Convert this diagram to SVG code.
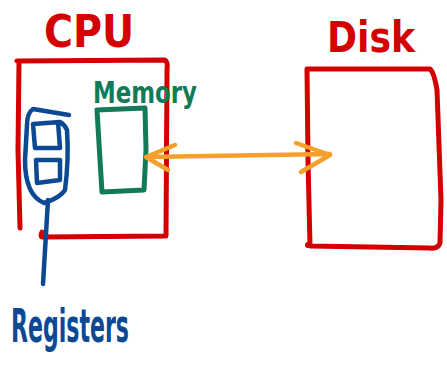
<svg xmlns="http://www.w3.org/2000/svg" width="447" height="375" viewBox="0 0 447 375">
<style>
.ln{fill:none;stroke-linecap:round;stroke-linejoin:round}
.red{stroke:#d40000;stroke-width:5}
.grn{stroke:#127a55;stroke-width:5}
.blu{stroke:#0b4a92;stroke-width:4.5}
.org{stroke:#f5a02a;stroke-width:4.5}
.t{font-family:"DejaVu Sans Condensed","DejaVu Sans",sans-serif;font-weight:bold}
</style>
<rect width="447" height="375" fill="#ffffff"/>
<g id="cpu">
<text class="t" x="89" y="47" font-size="44" fill="#d40000" text-anchor="middle">CPU</text>
<path class="ln red" d="M17 61 L165 60 Q168 62 167 70 L166 236 L42 237 Q40 236 42 232 M19 62 L18 150 L20 228"/>
</g>
<g id="memory">
<text class="t" x="145" y="103" font-size="31" fill="#127a55" text-anchor="middle" textLength="104" lengthAdjust="spacingAndGlyphs">Memory</text>
<path class="ln grn" d="M97 110 L145 108 L146 150 L144 190 L102 192 L100 160 Z"/>
</g>
<g id="registers">
<path class="ln blu" d="M69 115 L33 109 Q27 113 27 125 L25 160 Q25 195 44 203 Q60 198 65 190 Q69 160 67 130 Q65 125 60 122 L33 124 L35 148 L60 148 L58 122 M36 160 L60 160 L60 180 L37 183 Z"/>
<path class="ln blu" d="M48 200 L43 284"/>
<text class="t" x="70" y="342" font-size="46" fill="#0b4a92" text-anchor="middle" textLength="118" lengthAdjust="spacingAndGlyphs">Registers</text>
</g>
<g id="disk">
<text class="t" x="371" y="52" font-size="42" fill="#d40000" text-anchor="middle" textLength="88" lengthAdjust="spacingAndGlyphs">Disk</text>
<path class="ln red" d="M307 69 L430 69 Q434 72 437 90 L441 200 L440 243 Q438 249 430 248 L310 246 L308 160 Z"/>
<circle cx="308" cy="245" r="3" fill="#d40000"/>
</g>
<g id="connectors">
<path class="ln org" d="M146 157 L330 154 M175 145 L146 157 L168 170 M296 143 L330 155 L301 172"/>
</g>
</svg>
